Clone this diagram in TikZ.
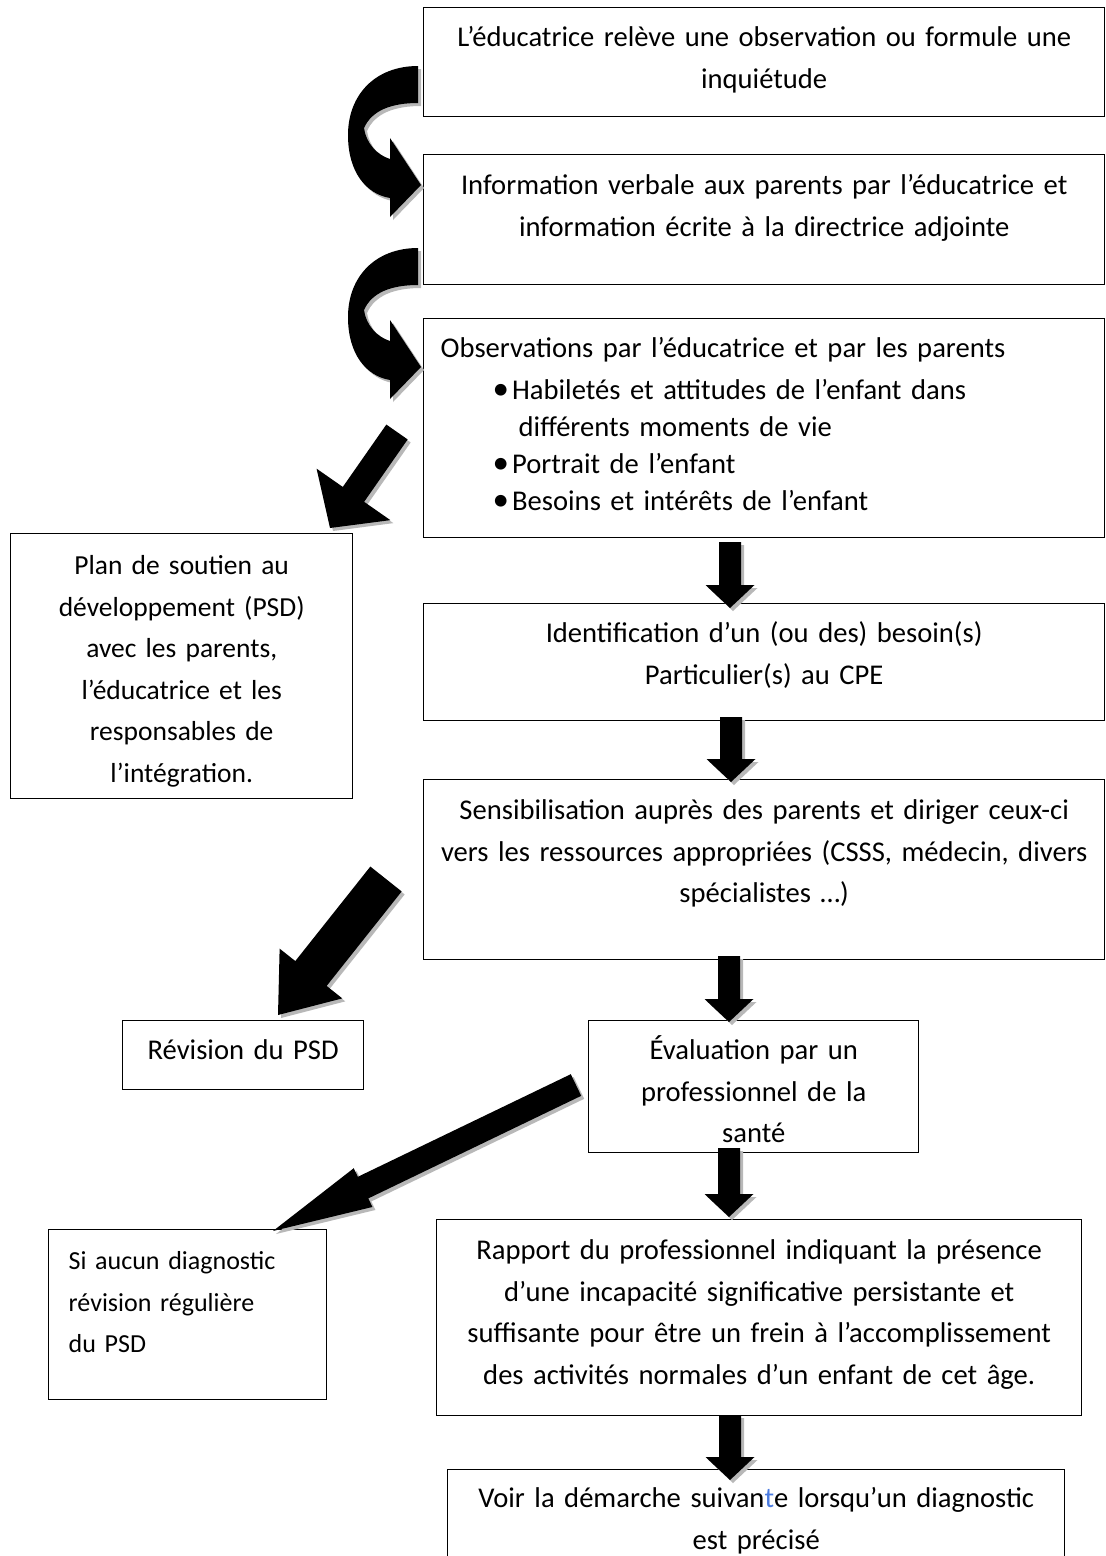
\documentclass[tikz,border=0pt]{standalone}
\usepackage{fontspec}
\setmainfont{Carlito}
\usetikzlibrary{calc}
\definecolor{shadowc}{gray}{0.72}
\definecolor{bluet}{HTML}{4A7BE0}

% #1 name, #2 left, #3 top, #4 right, #5 bottom, #6 first baseline, #7 x padding, #8 align (+options), #9 text
\newcommand\flowbox[9]{%
  \pgfmathsetmacro\fbw{#4-#2-2*#7}%
  \pgfmathsetmacro\fbh{#6-#3}%
  \pgfmathsetmacro\fbd{#5-#6}%
  \node[boxstyle, anchor=north west, inner xsep=#7pt, text width=\fbw pt,
        text height=\fbh pt, text depth=\fbd pt, align=#8] (#1) at (#2,#3) {#9};%
}
% #1 from, #2 to, #3 shaft half width, #4 head half width, #5 head length
\newcommand\blockarrow[5]{%
  \coordinate (bah) at ($(#2)!#5!(#1)$);%
  \fill[shadowc, transform canvas={xshift=3pt,yshift=-3pt}]
    ($(#1)!#3!90:(#2)$) -- ($(bah)!#3!90:(#2)$) -- ($(bah)!#4!90:(#2)$) -- (#2)
    -- ($(bah)!#4!-90:(#2)$) -- ($(bah)!#3!-90:(#2)$) -- ($(#1)!#3!-90:(#2)$) -- cycle;%
  \fill[black]
    ($(#1)!#3!90:(#2)$) -- ($(bah)!#3!90:(#2)$) -- ($(bah)!#4!90:(#2)$) -- (#2)
    -- ($(bah)!#4!-90:(#2)$) -- ($(bah)!#3!-90:(#2)$) -- ($(#1)!#3!-90:(#2)$) -- cycle;%
}

\begin{document}
\begin{tikzpicture}[x=1pt,y=-1pt,
  boxstyle/.style={draw=black, line width=1.4pt, inner ysep=0pt,
    font=\fontsize{28.6pt}{41.5pt}\selectfont}]
\useasboundingbox (0,0) rectangle (1106,1556);
\clip (0,0) rectangle (1106,1556);
\fill[white] (0,0) rectangle (1106,1556);

% boxes
\flowbox{b1}{423}{7}{1104}{116}{46}{0}{center}{L’éducatrice relève une observation ou formule une\\inquiétude}
\flowbox{b2}{423}{154}{1104}{284}{194}{0}{center}{Information verbale aux parents par l’éducatrice et\\information écrite à la directrice adjointe}
\flowbox{b3}{423}{318}{1104}{537}{357}{17}{left,font=\fontsize{28.6pt}{37pt}\selectfont}{Observations par l’éducatrice et par les parents\\[5pt]
\hspace*{52pt}{\fontsize{33pt}{37pt}\selectfont\textbullet}\hspace*{3pt}Habiletés et attitudes de l’enfant dans\\
\hspace*{78pt}différents moments de vie\\
\hspace*{52pt}{\fontsize{33pt}{37pt}\selectfont\textbullet}\hspace*{3pt}Portrait de l’enfant\\
\hspace*{52pt}{\fontsize{33pt}{37pt}\selectfont\textbullet}\hspace*{3pt}Besoins et intérêts de l’enfant}
\flowbox{b4}{423}{603}{1104}{720}{642}{0}{center}{Identification d’un (ou des) besoin(s)\\Particulier(s) au CPE}
\flowbox{b5}{423}{779}{1104}{959}{819}{0}{center}{Sensibilisation auprès des parents et diriger ceux-ci\\vers les ressources appropriées (CSSS, médecin, divers\\spécialistes …)}
\flowbox{b6}{588}{1020}{918}{1152}{1059}{0}{center}{Évaluation par un\\professionnel de la\\santé}
\flowbox{b7}{436}{1219}{1081}{1415}{1259}{0}{center}{Rapport du professionnel indiquant la présence\\d’une incapacité significative persistante et\\suffisante pour être un frein à l’accomplissement\\des activités normales d’un enfant de cet âge.}
\flowbox{b8}{447}{1469}{1064}{1600}{1507}{0}{center}{Voir la démarche suivan{\color{bluet}t}e lorsqu’un diagnostic\\est précisé}
\flowbox{plan}{10}{533}{352}{798}{574}{0}{center,font=\fontsize{27.5pt}{41.5pt}\selectfont}{Plan de soutien au\\développement (PSD)\\avec les parents,\\l’éducatrice et les\\responsables de\\l’intégration.}
\flowbox{rev}{122}{1020}{363}{1089}{1059}{0}{center}{Révision du PSD}
\flowbox{si}{48}{1229}{326}{1399}{1269}{20}{left,font=\fontsize{26pt}{41.5pt}\selectfont}{Si aucun diagnostic\\révision régulière\\du PSD}

% curved arrows (box1 -> box2, box2 -> box3)
\foreach \dy in {0,182}{
  \begin{scope}[shift={(0,\dy)}]
    \fill[shadowc,shift={(3,3)}] (418,66) .. controls (375,66) and (348,95) .. (348,135)
      .. controls (348,172) and (366,194) .. (390,198) -- (390,217) -- (421,185) -- (390,138)
      -- (390,159) .. controls (377,155) and (366,143) .. (364,128)
      .. controls (372,110) and (392,103) .. (418,103) -- cycle;
    \fill[black] (418,66) .. controls (375,66) and (348,95) .. (348,135)
      .. controls (348,172) and (366,194) .. (390,198) -- (390,217) -- (421,185) -- (390,138)
      -- (390,159) .. controls (377,155) and (366,143) .. (364,128)
      .. controls (372,110) and (392,103) .. (418,103) -- cycle;
  \end{scope}
}

% straight block arrows
\coordinate (v1a) at (730,542);  \coordinate (v1b) at (730,608);
\coordinate (v2a) at (731,717);  \coordinate (v2b) at (731,782);
\coordinate (v3a) at (729,956);  \coordinate (v3b) at (729,1022);
\coordinate (v4a) at (729,1148); \coordinate (v4b) at (729,1217);
\coordinate (v5a) at (730,1415); \coordinate (v5b) at (730,1480);
\blockarrow{v1a}{v1b}{11pt}{24.5pt}{23pt}
\blockarrow{v2a}{v2b}{11pt}{24.5pt}{23pt}
\blockarrow{v3a}{v3b}{11pt}{24.5pt}{23pt}
\blockarrow{v4a}{v4b}{11pt}{24.5pt}{23pt}
\blockarrow{v5a}{v5b}{11pt}{24.5pt}{23pt}

\coordinate (d1a) at (397,432);  \coordinate (d1b) at (330,528);
\coordinate (d2a) at (386,879);  \coordinate (d2b) at (278,1015);
\coordinate (d3a) at (576,1085); \coordinate (d3b) at (273,1231);
\blockarrow{d1a}{d1b}{13pt}{45pt}{41pt}
\blockarrow{d2a}{d2b}{20pt}{40pt}{53pt}
\blockarrow{d3a}{d3b}{12pt}{21.5pt}{100pt}
\end{tikzpicture}
\end{document}
